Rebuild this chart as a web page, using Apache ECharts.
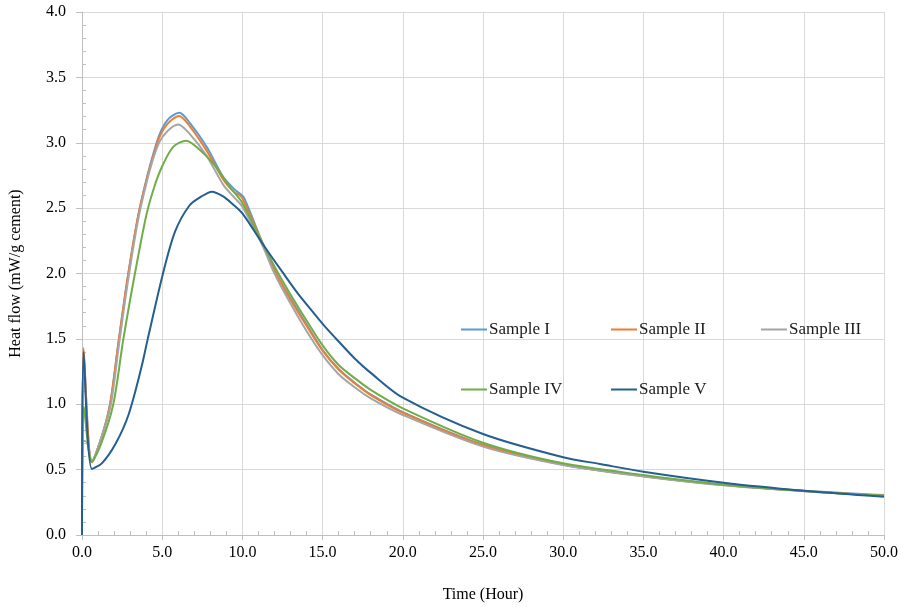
<!DOCTYPE html>
<html>
<head>
<meta charset="utf-8">
<script src="https://cdn.jsdelivr.net/npm/echarts@6/dist/echarts.min.js"></script>
<style>
  html, body { margin: 0; padding: 0; background: #fff; }
  #chart { width: 906px; height: 607px; }
</style>
</head>
<body>
<div id="chart"></div>
<script>
var names = ['Sample I', 'Sample II', 'Sample III', 'Sample IV', 'Sample V'];
var colors = ['#5B9BD5', '#ED7D31', '#A5A5A5', '#70AD47', '#255E91'];

// time (hour) / heat flow (mW/g cement)
var t1 = [0, 0.1, 0.62, 1.25, 1.75, 2.25, 2.85, 3.6, 4.65, 5.3, 6.07, 6.73, 7.77, 8.8, 9.54, 9.85, 10.1, 11.3, 12.1, 13, 14, 15, 16, 17, 18, 20, 25, 30, 35, 40, 45, 50];
var v1 = [0, 1.41, 0.556, 0.76, 1.0, 1.45, 1.97, 2.5, 3.0, 3.17, 3.23, 3.15, 2.97, 2.74, 2.64, 2.61, 2.58, 2.22, 2.0, 1.81, 1.61, 1.415, 1.27, 1.165, 1.075, 0.94, 0.69, 0.54, 0.452, 0.385, 0.338, 0.305];

var t2 = [0, 0.1, 0.62, 1.25, 1.75, 2.25, 2.85, 3.6, 4.7, 5.3, 6.05, 6.7, 7.77, 8.8, 9.5, 9.8, 10, 11.3, 12.1, 13, 14, 15, 16, 17, 18, 20, 25, 30, 35, 40, 45, 50];
var v2 = [0, 1.43, 0.556, 0.76, 1.0, 1.45, 1.97, 2.5, 3.0, 3.14, 3.205, 3.13, 2.94, 2.72, 2.62, 2.6, 2.575, 2.22, 2.0, 1.8, 1.6, 1.41, 1.265, 1.16, 1.07, 0.935, 0.686, 0.537, 0.45, 0.382, 0.336, 0.3];

var t3 = [0, 0.1, 0.3, 0.62, 1.25, 1.8, 2.3, 2.9, 3.65, 4.8, 6.0, 6.7, 7.77, 8.8, 9.5, 10, 11.3, 12, 13, 14, 15, 16, 17, 18, 20, 25, 30, 35, 40, 45, 50];
var v3 = [0, 0.72, 0.71, 0.57, 0.76, 1.0, 1.45, 1.97, 2.5, 3.0, 3.14, 3.07, 2.9, 2.68, 2.58, 2.51, 2.2, 2.0, 1.77, 1.56, 1.375, 1.23, 1.13, 1.045, 0.918, 0.676, 0.535, 0.448, 0.38, 0.335, 0.3];

var t4 = [0, 0.12, 0.62, 1.2, 1.95, 2.58, 3.3, 4.0, 4.5, 5.0, 5.7, 6.5, 7.3, 8.19, 9.23, 10, 11.3, 12.24, 13, 14, 15, 16, 17, 18, 20, 25, 30, 35, 40, 45, 50];
var v4 = [0, 0.98, 0.56, 0.7, 1.0, 1.5, 2.0, 2.44, 2.66, 2.82, 2.97, 3.016, 2.95, 2.84, 2.66, 2.54, 2.22, 2.0, 1.84, 1.64, 1.45, 1.3, 1.2, 1.11, 0.969, 0.706, 0.548, 0.459, 0.385, 0.337, 0.3];

var t5 = [0, 0.1, 0.62, 1.25, 2.1, 2.9, 3.72, 4.1, 5.05, 5.8, 6.7, 7.46, 8.1, 8.8, 9.4, 10, 11.3, 12.5, 13.5, 14.5, 15, 16, 17, 18, 20, 25, 30, 32.3, 35, 40, 45, 50];
var v5 = [0, 1.4, 0.505, 0.55, 0.7, 0.92, 1.29, 1.5, 2.0, 2.32, 2.52, 2.59, 2.626, 2.59, 2.53, 2.46, 2.22, 2.01, 1.84, 1.69, 1.615, 1.48, 1.35, 1.24, 1.05, 0.772, 0.594, 0.543, 0.484, 0.4, 0.339, 0.293];

var times = [t1, t2, t3, t4, t5];
var values = [v1, v2, v3, v4, v5];

var font = 'Liberation Serif';
var chart = echarts.init(document.getElementById('chart'));

var series = [];
var legends = [];
var legendPos = [[461, 321], [611, 321], [761, 321], [461, 381], [611, 381]];
for (var i = 0; i < names.length; i++) {
  var pts = [];
  for (var j = 0; j < times[i].length; j++) {
    pts.push([times[i][j], values[i][j]]);
  }
  series.push({
    name: names[i],
    type: 'line',
    data: pts,
    smooth: 0.3,
    showSymbol: false,
    lineStyle: { width: 2, color: colors[i] },
    itemStyle: { color: colors[i] }
  });
  legends.push({
    data: [names[i]],
    left: legendPos[i][0],
    top: legendPos[i][1],
    icon: 'rect',
    itemWidth: 26,
    itemHeight: 2,
    itemGap: 0,
    padding: 0,
    textStyle: { fontFamily: font, fontSize: 17, color: '#1a1a1a', padding: [0, 0, 0, -3] }
  });
}

var option = {
  animation: false,
  color: colors,
  grid: { left: 82, right: 22, top: 12, bottom: 72, outerBoundsMode: 'none' },
  legend: legends,
  xAxis: {
    type: 'value',
    min: 0,
    max: 50,
    interval: 5,
    name: 'Time (Hour)',
    nameLocation: 'middle',
    nameGap: 52,
    nameTextStyle: { fontFamily: font, fontSize: 16, color: '#000' },
    axisLine: { show: true, lineStyle: { color: '#BFBFBF', width: 1 } },
    axisTick: { show: true, length: 5, lineStyle: { color: '#BFBFBF' } },
    minorTick: { show: true, splitNumber: 5, length: -4, lineStyle: { color: '#BFBFBF' } },
    axisLabel: {
      fontFamily: font, fontSize: 16, color: '#000', margin: 10,
      formatter: function (v) { return v.toFixed(1); }
    },
    splitLine: { show: true, lineStyle: { color: '#D9D9D9', width: 1 } }
  },
  yAxis: {
    type: 'value',
    min: 0,
    max: 4,
    interval: 0.5,
    name: 'Heat flow (mW/g cement)',
    nameLocation: 'middle',
    nameGap: 58,
    nameTextStyle: { fontFamily: font, fontSize: 16, color: '#000' },
    axisLine: { show: true, lineStyle: { color: '#BFBFBF', width: 1 } },
    axisTick: { show: true, length: 6, lineStyle: { color: '#BFBFBF' } },
    minorTick: { show: true, splitNumber: 5, length: -4, lineStyle: { color: '#BFBFBF' } },
    axisLabel: {
      fontFamily: font, fontSize: 16, color: '#000', margin: 16,
      formatter: function (v) { return v.toFixed(1); }
    },
    splitLine: { show: true, lineStyle: { color: '#D9D9D9', width: 1 } }
  },
  series: series
};

chart.setOption(option);
</script>
</body>
</html>
